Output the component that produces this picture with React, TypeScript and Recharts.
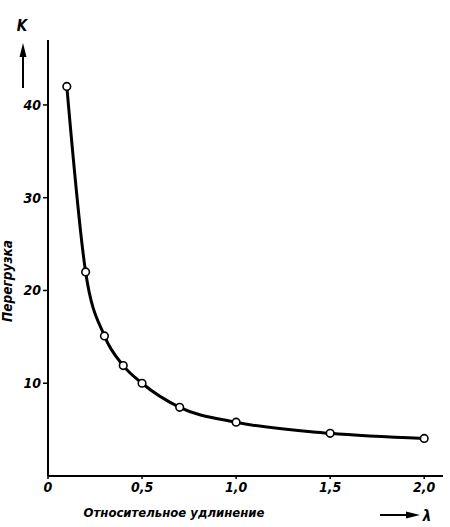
import React from "react";
import { LineChart, Line, XAxis, YAxis } from "recharts";

// relative elongation (lambda) vs overload (K)
const elongation = [0.1, 0.2, 0.3, 0.4, 0.5, 0.7, 1.0, 1.5, 2.0];
const overload = [42.0, 22.0, 15.1, 11.9, 10.0, 7.4, 5.8, 4.6, 4.05];
const xTicks = [0, 0.5, 1.0, 1.5, 2.0];
const yTicks = [10, 20, 30, 40];
const xTitle = "Относительное удлинение";
const yTitle = "Перегрузка";

const data = elongation.map((x, i) => ({ x, k: overload[i] }));

const font = "'DejaVu Sans Condensed', 'Liberation Sans Narrow', sans-serif";
const tickStyle = {
  fontFamily: font,
  fontStyle: "italic",
  fontWeight: "bold",
  fontSize: 14,
  fill: "#000",
};

const fmtX = (v: number) => (v === 0 ? "0" : v.toFixed(1).replace(".", ","));

export default function App() {
  return (
    <div style={{ position: "absolute", left: 0, top: 0, width: 450, height: 527, background: "#fff" }}>
      <LineChart
        width={450}
        height={527}
        data={data}
        margin={{ top: 40, right: 7, bottom: 0, left: 0 }}
      >
        <XAxis
          dataKey="x"
          type="number"
          domain={[0, 2.1]}
          ticks={xTicks}
          tickFormatter={fmtX}
          height={51}
          tickSize={3}
          tickMargin={3}
          tick={tickStyle}
          axisLine={{ stroke: "#000", strokeWidth: 2 }}
          tickLine={{ stroke: "#000", strokeWidth: 1.5 }}
          allowDataOverflow
        />
        <YAxis
          type="number"
          domain={[0, 47]}
          ticks={yTicks}
          width={48}
          tickSize={5}
          tickMargin={2}
          tick={tickStyle}
          axisLine={{ stroke: "#000", strokeWidth: 2 }}
          tickLine={{ stroke: "#000", strokeWidth: 1.5 }}
          allowDataOverflow
        />
        <Line
          dataKey="k"
          type="monotone"
          stroke="#000"
          strokeWidth={3}
          dot={{ r: 3.8, fill: "#fff", stroke: "#000", strokeWidth: 1.6 }}
          isAnimationActive={false}
        />
      </LineChart>
      <svg
        width={450}
        height={527}
        style={{ position: "absolute", left: 0, top: 0, pointerEvents: "none" }}
      >
        <text x={22} y={31} textAnchor="middle" style={{ ...tickStyle, fontSize: 15 }}>K</text>
        <line x1={23} y1={88} x2={23} y2={55} stroke="#000" strokeWidth={2} />
        <polygon points="23,43 19.5,57 26.5,57" fill="#000" />
        <text
          x={0}
          y={0}
          transform="translate(12,281) rotate(-90)"
          textAnchor="middle"
          style={{ ...tickStyle, fontSize: 13.5 }}
        >
          {yTitle}
        </text>
        <text x={174} y={517} textAnchor="middle" style={{ ...tickStyle, fontSize: 13 }}>
          {xTitle}
        </text>
        <line x1={380} y1={515} x2={408} y2={515} stroke="#000" strokeWidth={2} />
        <polygon points="420,515 406,511.5 406,518.5" fill="#000" />
        <text x={427} y={521} textAnchor="middle" style={{ ...tickStyle, fontSize: 15 }}>λ</text>
      </svg>
    </div>
  );
}
